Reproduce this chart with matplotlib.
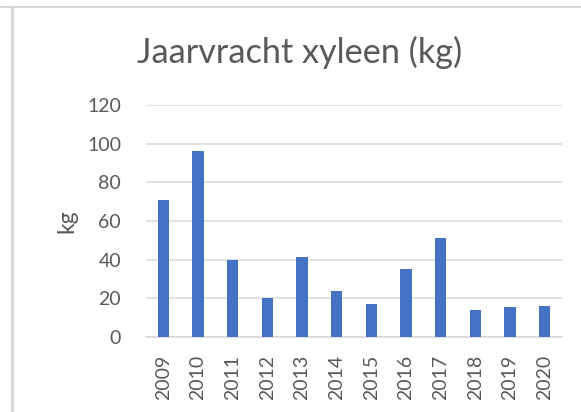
import matplotlib.pyplot as plt
from matplotlib.lines import Line2D

years = ["2009", "2010", "2011", "2012", "2013", "2014", "2015", "2016", "2017", "2018", "2019", "2020"]
kg = [71, 96, 40, 20, 41.5, 24, 17, 35, 51, 14, 15.3, 16]
yticks = [0, 20, 40, 60, 80, 100, 120]

plt.rcParams['font.family'] = ['Lato', 'DejaVu Sans']
grey = '#595959'

fig = plt.figure(figsize=(5.81, 4.12), dpi=100)
ax = fig.add_axes([146/581, 1 - 337/412, 416/581, 232/412])

x = range(len(years))
ax.bar(x, kg, width=0.33, color='#4472C4', zorder=3)
ax.set_xlim(-0.5, len(years) - 0.5)
ax.set_ylim(0, 120)
ax.set_yticks(yticks)
ax.set_xticks(list(x))
ax.set_xticklabels(years, rotation=90, fontsize=14, color=grey)
ax.tick_params(axis='y', labelsize=14, labelcolor=grey, length=0, pad=18)
ax.tick_params(axis='x', length=0, pad=13)
ax.grid(axis='y', color='#d9d9d9', linewidth=1.1, zorder=0)
for s in ['top', 'right', 'left']:
    ax.spines[s].set_visible(False)
ax.spines['bottom'].set_color('#d9d9d9')
ax.spines['bottom'].set_linewidth(1.1)
ax.set_ylabel('kg', fontsize=16.5, color=grey, labelpad=7)

fig.text(300/581, 1 - 52/412, 'Jaarvracht xyleen (kg)', fontsize=24.7, color=grey,
         ha='center', va='center')

# frame lines from the surrounding page
fig.add_artist(Line2D([0, 1], [1 - 6.5/412, 1 - 6.5/412], color='#d0d0d0', lw=1.2))
fig.add_artist(Line2D([11.5/581, 11.5/581], [0, 1 - 7/412], color='#d9d9d9', lw=2.4))

fig.savefig('out.png', dpi=100)
